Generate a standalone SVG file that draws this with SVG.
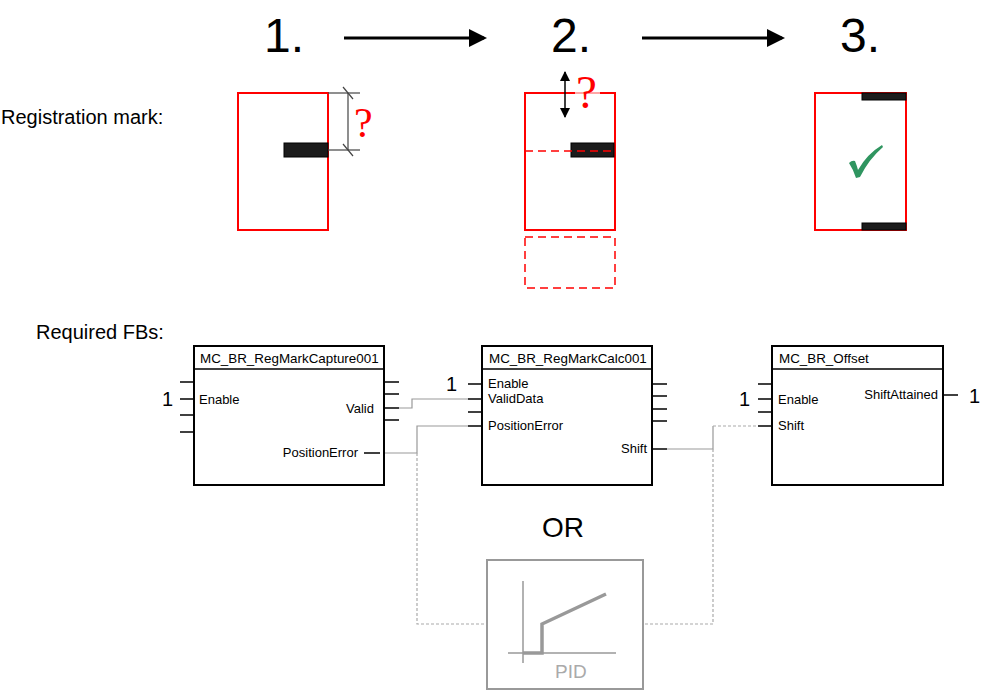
<svg xmlns="http://www.w3.org/2000/svg" width="981" height="690" viewBox="0 0 981 690">
<defs>
<style>
.t{font-family:"Liberation Sans",Arial,sans-serif;fill:#000}
.big{font-size:48px}
.lg{font-size:20px}
.sm{font-size:13px}
.ti{font-size:13.4px}
.red{fill:none;stroke:#ff0000;stroke-width:2}
.reddash{fill:none;stroke:#ff0000;stroke-width:1.5;stroke-dasharray:8,5}
.bar{fill:#1c1c1c;stroke:#000;stroke-width:1}
.q{font-family:"Liberation Serif","Times New Roman",serif;fill:#ff0000}
.fb{fill:#fff;stroke:#000;stroke-width:2}
.stub{stroke:#000;stroke-width:1.5}
.con{fill:none;stroke:#999;stroke-width:1.2}
.dot{fill:none;stroke:#aaa;stroke-width:1.2;stroke-dasharray:3,2}
.gr{fill:none;stroke:#999}
</style>
<marker id="ah" markerWidth="6" markerHeight="6" refX="5" refY="3" orient="auto" markerUnits="strokeWidth">
<path d="M0,0 L6,3 L0,6 Z" fill="#000"/>
</marker>
<marker id="ah2" markerWidth="10" markerHeight="10" refX="9" refY="5" orient="auto-start-reverse" markerUnits="userSpaceOnUse">
<path d="M0,0 L10,5 L0,10 Z" fill="#000"/>
</marker>
</defs>
<rect width="981" height="690" fill="#fff"/>

<g id="steps">
<text class="t big" x="264" y="52">1.</text>
<text class="t big" x="551" y="52">2.</text>
<text class="t big" x="840" y="52">3.</text>
<line x1="344" y1="38" x2="484" y2="38" stroke="#000" stroke-width="3" marker-end="url(#ah)"/>
<line x1="642" y1="38" x2="782" y2="38" stroke="#000" stroke-width="3" marker-end="url(#ah)"/>
</g>

<text class="t lg" x="1" y="124">Registration mark:</text>

<g id="mark1">
<rect class="red" x="238" y="93" width="90" height="137"/>
<rect class="bar" x="284" y="143" width="44" height="14"/>
<g stroke="#444" stroke-width="1.2">
<line x1="328" y1="93" x2="360" y2="93"/>
<line x1="328" y1="150" x2="360" y2="150"/>
<line x1="348" y1="93" x2="348" y2="150"/>
<line x1="343" y1="87" x2="353" y2="99"/>
<line x1="343" y1="144" x2="353" y2="156"/>
</g>
<text class="q" x="354" y="137" font-size="42">?</text>
</g>

<g id="mark2">
<rect class="red" x="525" y="93" width="90" height="137"/>
<rect class="bar" x="571" y="143" width="43" height="14"/>
<line class="reddash" x1="525" y1="151" x2="615" y2="151"/>
<rect class="reddash" x="525" y="237" width="90" height="51"/>
<line x1="565" y1="72" x2="565" y2="117" stroke="#000" stroke-width="1.5" marker-start="url(#ah2)" marker-end="url(#ah2)"/>
<rect x="575" y="91" width="25" height="4" fill="#fff" opacity="0.65"/>
<text class="q" x="576" y="108" font-size="47">?</text>
</g>

<g id="mark3">
<rect class="red" x="815" y="93" width="91" height="137"/>
<rect class="bar" x="862" y="93" width="44" height="7"/>
<rect class="bar" x="862" y="223" width="44" height="7"/>
<path d="M849,163 Q852,160 855,161 Q857,166 858,170 Q867,154 882,145 L883,147 Q869,159 860,177 L856,178 Q853,169 849,163 Z" fill="#2f9560"/>
</g>

<text class="t lg" x="36" y="339">Required FBs:</text>

<g id="connectors">
<path class="con" d="M399,408 H412 V399 H468"/>
<path class="con" d="M380,453 H417 V426 H468"/>
<path class="con" d="M667,449 H713 V426"/>
<path class="dot" d="M713,426 H758"/>
<path class="dot" d="M417,453 V624 H487"/>
<path class="dot" d="M713,449 V624 H643"/>
</g>

<g id="fb-capture">
<rect class="fb" x="194" y="346" width="190" height="139"/>
<line class="stub" x1="194" y1="369" x2="384" y2="369"/>
<text class="t ti" x="200" y="363">MC_BR_RegMarkCapture001</text>
<g class="stub">
<line x1="180" y1="382" x2="194" y2="382"/>
<line x1="180" y1="399" x2="194" y2="399"/>
<line x1="180" y1="415" x2="194" y2="415"/>
<line x1="180" y1="432" x2="194" y2="432"/>
<line x1="384" y1="382" x2="399" y2="382"/>
<line x1="384" y1="394" x2="399" y2="394"/>
<line x1="384" y1="408" x2="399" y2="408"/>
<line x1="384" y1="420" x2="399" y2="420"/>
<line x1="364" y1="453" x2="380" y2="453"/>
</g>
<text class="t lg" x="162" y="406">1</text>
<text class="t sm" x="199" y="404">Enable</text>
<text class="t sm" x="374" y="413" text-anchor="end">Valid</text>
<text class="t sm" x="358" y="457" text-anchor="end">PositionError</text>
</g>

<g id="fb-calc">
<rect class="fb" x="482" y="346" width="170" height="139"/>
<line class="stub" x1="482" y1="369" x2="652" y2="369"/>
<text class="t ti" x="489" y="363">MC_BR_RegMarkCalc001</text>
<g class="stub">
<line x1="468" y1="384" x2="482" y2="384"/>
<line x1="468" y1="399" x2="482" y2="399"/>
<line x1="468" y1="412" x2="482" y2="412"/>
<line x1="468" y1="426" x2="482" y2="426"/>
<line x1="652" y1="384" x2="667" y2="384"/>
<line x1="652" y1="396" x2="667" y2="396"/>
<line x1="652" y1="409" x2="667" y2="409"/>
<line x1="652" y1="421" x2="667" y2="421"/>
<line x1="652" y1="449" x2="667" y2="449"/>
</g>
<text class="t lg" x="446" y="391">1</text>
<text class="t sm" x="488" y="388">Enable</text>
<text class="t sm" x="488" y="403">ValidData</text>
<text class="t sm" x="488" y="430">PositionError</text>
<text class="t sm" x="647" y="453" text-anchor="end">Shift</text>
</g>

<g id="fb-offset">
<rect class="fb" x="772" y="346" width="171" height="139"/>
<line class="stub" x1="772" y1="369" x2="943" y2="369"/>
<text class="t ti" x="779" y="363">MC_BR_Offset</text>
<g class="stub">
<line x1="758" y1="384" x2="772" y2="384"/>
<line x1="758" y1="399" x2="772" y2="399"/>
<line x1="758" y1="412" x2="772" y2="412"/>
<line x1="758" y1="426" x2="772" y2="426"/>
<line x1="943" y1="395" x2="958" y2="395"/>
</g>
<text class="t lg" x="739" y="406">1</text>
<text class="t sm" x="778" y="404">Enable</text>
<text class="t sm" x="778" y="430">Shift</text>
<text class="t sm" x="938" y="399" text-anchor="end">ShiftAttained</text>
<text class="t lg" x="969" y="403">1</text>
</g>

<text class="t" x="542" y="537" font-size="28">OR</text>

<g id="pid">
<rect x="487" y="560" width="156" height="129" fill="#fff" stroke="#999" stroke-width="2"/>
<line class="gr" x1="523" y1="581" x2="523" y2="663" stroke-width="1.5"/>
<line class="gr" x1="508" y1="653" x2="616" y2="653" stroke-width="1.5"/>
<path class="gr" d="M523,653 H542 V624 L606,594" stroke-width="3.5"/>
<text x="555" y="678" font-family="Liberation Sans, Arial, sans-serif" font-size="19" fill="#aaa">PID</text>
</g>
</svg>
